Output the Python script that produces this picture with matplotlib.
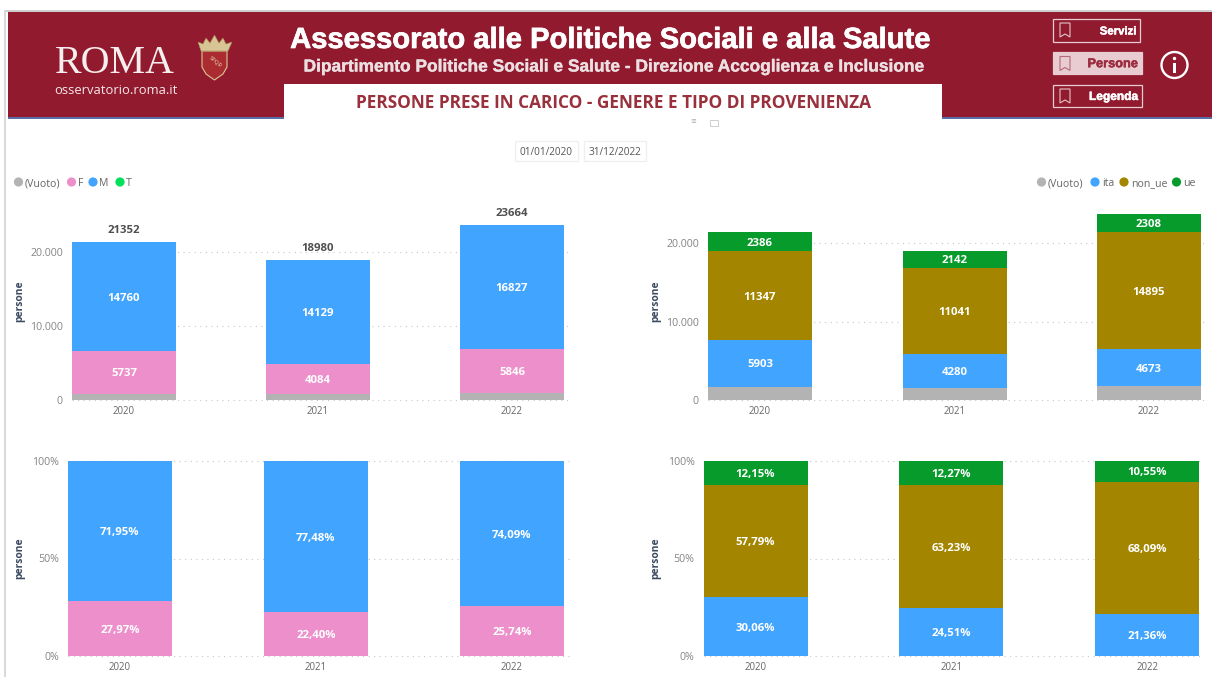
import matplotlib
matplotlib.use("Agg")
import matplotlib.pyplot as plt
import matplotlib.patheffects as pe
from matplotlib.patches import Rectangle, Polygon, Circle
from matplotlib.ticker import FuncFormatter

plt.rcParams["font.family"] = ["Open Sans", "DejaVu Sans"]

years = ["2020", "2021", "2022"]
totals = [21352, 18980, 23664]
g_vuoto = [855, 767, 991]
g_f = [5737, 4084, 5846]
g_m = [14760, 14129, 16827]
p_vuoto = [1716, 1517, 1788]
p_ita = [5903, 4280, 4673]
p_non = [11347, 11041, 14895]
p_ue = [2386, 2142, 2308]
gp_f = [27.97, 22.40, 25.74]
gp_m = [71.95, 77.48, 74.09]
pp_ita = [30.06, 24.51, 21.36]
pp_non = [57.79, 63.23, 68.09]
pp_ue = [12.15, 12.27, 10.55]

GREY, PINK, BLUE, GOLD, GREEN, LIME = "#b3b3b3", "#ec8fcb", "#41a4ff", "#a38500", "#069b2a", "#00e05a"
RED = "#911a2e"
W, H = 1212, 677
SANS = "Open Sans"
BAR_PX = 104

fig = plt.figure(figsize=(W / 100, H / 100), dpi=100, facecolor="white")


def make_ax(x0, x1, ytop, ybase, c0, pxu, lab_x, lab_y):
    ax = fig.add_axes([x0 / W, 1 - ybase / H, (x1 - x0) / W, (ybase - ytop) / H])
    ax.set_xlim((x0 - c0) / pxu, (x1 - c0) / pxu)
    ax.patch.set_alpha(0)
    for s in ax.spines.values():
        s.set_visible(False)
    ax.set_xticks(range(3), years)
    ax.tick_params(axis="x", length=0, labelsize=6.9, labelcolor="#666666", pad=4)
    ax.tick_params(axis="y", length=0, labelsize=7.7, labelcolor="#858585", pad=6.5)
    ax.set_axisbelow(True)
    ax.grid(axis="y", color="#c8c8c8", linestyle=(0, (1, 4)), linewidth=0.8, clip_on=False)
    ax.grid(axis="x", visible=False)
    ax.set_ylabel("persone", fontsize=7.4, color="#3c4a60", fontweight="bold")
    ax.yaxis.set_label_coords((lab_x - x0) / (x1 - x0), (ybase - lab_y) / (ybase - ytop))
    ax.bar_width = BAR_PX / pxu
    return ax


def stack(ax, layers, fmt):
    bottoms = [0, 0, 0]
    for vals, col, lab in layers:
        ax.bar(range(3), vals, bottom=bottoms, width=ax.bar_width, color=col,
               edgecolor="none", zorder=3)
        if lab:
            for i, v in enumerate(vals):
                ax.annotate(fmt(v), (i, bottoms[i] + v / 2), xytext=(0, -1.1),
                            textcoords="offset points", ha="center", va="center",
                            color="white", fontsize=8.2, fontweight="bold", zorder=4)
        bottoms = [b + v for b, v in zip(bottoms, vals)]
    return bottoms


num = lambda v: f"{v}"
pct = lambda v: f"{v:.2f}".replace(".", ",") + "%"
thou = FuncFormatter(lambda v, _: f"{int(v):,}".replace(",", "."))
pctf = FuncFormatter(lambda v, _: f"{int(v)}%")

ax1 = make_ax(72, 570, 215, 400, 124, 194, 25, 301)
ax1.set_ylim(0, 185 / 7.4 * 1000)
stack(ax1, [(g_vuoto, GREY, False), (g_f, PINK, True), (g_m, BLUE, True)], num)
for i, t in enumerate(totals):
    ax1.annotate(str(t), (i, t), xytext=(0, 4), textcoords="offset points", ha="center",
                 va="bottom", fontsize=8.2, fontweight="bold", color="#505050")
ax1.set_yticks([0, 10000, 20000])
ax1.yaxis.set_major_formatter(thou)

ax2 = make_ax(708, 1206, 204, 400, 760, 194.5, 661, 301)
ax2.set_ylim(0, 196 / 7.85 * 1000)
stack(ax2, [(p_vuoto, GREY, False), (p_ita, BLUE, True), (p_non, GOLD, True), (p_ue, GREEN, True)], num)
ax2.set_yticks([0, 10000, 20000])
ax2.yaxis.set_major_formatter(thou)

ax3 = make_ax(68, 570, 461, 656, 120, 196, 25, 558)
ax3.set_ylim(0, 100)
stack(ax3, [(gp_f, PINK, True), (gp_m, BLUE, True)], pct)
ax3.set_yticks([0, 50, 100])
ax3.yaxis.set_major_formatter(pctf)

ax4 = make_ax(703.5, 1203, 461, 656, 755.5, 195.8, 661, 558)
ax4.set_ylim(0, 100)
stack(ax4, [(pp_ita, BLUE, True), (pp_non, GOLD, True), (pp_ue, GREEN, True)], pct)
ax4.set_yticks([0, 50, 100])
ax4.yaxis.set_major_formatter(pctf)

# page furniture drawn in pixel coordinates
top = fig.add_axes([0, 0, 1, 1], zorder=5)
top.set_xlim(0, W)
top.set_ylim(H, 0)
top.axis("off")
top.patch.set_alpha(0)

top.add_patch(Rectangle((4, 10), 1208, 2, color="#cfcfcf", lw=0))
top.add_patch(Rectangle((4, 10), 2, 667, color="#d9d9d9", lw=0))
top.add_patch(Rectangle((8, 12), 1204, 106, color=RED, lw=0))
top.add_patch(Rectangle((8, 117.4), 1204, 1.2, color="#5a6fa8", lw=0))
top.add_patch(Rectangle((284, 84), 658, 35, color="white", lw=0))

top.text(114.5, 63.5, "ROMA", family="Liberation Serif", fontsize=28.8, color="#f6eeee", ha="center", va="center")
top.text(115.5, 90, "osservatorio.roma.it", family=SANS, fontsize=9.4, color="#f4e8ea", ha="center", va="center")
# crest
GOLDC = "#d8c596"
top.add_patch(Polygon([(202, 51), (227, 51), (227, 67), (223, 74), (214.5, 80), (206, 74), (202, 67)],
                      closed=True, fc="#ab2c30", ec=GOLDC, lw=0.8))
top.add_patch(Polygon([(198, 42), (203, 44), (206, 38), (210, 43), (214.5, 35), (219, 43), (223, 38),
                       (226, 44), (232, 42), (228, 51), (201, 51)], closed=True, fc=GOLDC, ec="#a08a55", lw=0.4))
top.text(214.5, 62, "SPQR", fontsize=4.2, color="#e8d6b0", rotation=-40, ha="center", va="center")

t1 = top.text(610, 40, "Assessorato alle Politiche Sociali e alla Salute", family="Liberation Sans",
              fontweight="bold", fontsize=21, color="white", ha="center", va="center")
t1.set_path_effects([pe.withStroke(linewidth=0.5, foreground="white")])
t2 = top.text(614.5, 67, "Dipartimento Politiche Sociali e Salute - Direzione Accoglienza e Inclusione",
              family="Liberation Sans", fontweight="bold", fontsize=12.5, color="#ecdfe2", ha="center", va="center")
t2.set_path_effects([pe.withStroke(linewidth=0.25, foreground="#ecdfe2")])
top.text(614, 103, "PERSONE PRESE IN CARICO - GENERE E TIPO DI PROVENIENZA", family=SANS,
         fontweight="bold", fontsize=12.45, color="#99303c", ha="center", va="center")


def bookmark(x, y, col):
    top.add_patch(Polygon([(x, y), (x + 10, y), (x + 10, y + 14), (x + 5, y + 11), (x, y + 14)],
                          closed=True, fc="none", ec=col, lw=0.8))


for (x0, y0, w, h, label, lx, fs, active) in [
    (1053, 18.5, 87, 23.5, "Servizi", 1137, 8.2, False),
    (1053, 52, 89, 22, "Persone", 1138, 9.2, True),
    (1053, 84.5, 89, 22.5, "Legenda", 1138, 8.6, False),
]:
    top.add_patch(Rectangle((x0, y0), w, h, fc="#e8ccd2" if active else "none",
                            ec="#e8ccd2", lw=0.9))
    bookmark(x0 + 7, y0 + 4.5, "#b56a78" if active else "#e3c4ca")
    col = "#9c2c40" if active else "white"
    tb = top.text(lx, y0 + h / 2 + 1.2, label, family="Liberation Sans", fontweight="bold", fontsize=fs,
                  color=col, ha="right", va="center")
    tb.set_path_effects([pe.withStroke(linewidth=0.35, foreground=col)])
top.add_patch(Circle((1174.5, 65), 13, fc="none", ec="white", lw=1.7))
top.add_patch(Rectangle((1173.2, 63), 2.6, 10, color="white", lw=0))
top.add_patch(Circle((1174.5, 58.5), 1.7, color="white", lw=0))

# date boxes
for x0, x1, s in [(515, 578, "01/01/2020"), (584, 646, "31/12/2022")]:
    top.add_patch(Rectangle((x0, 141), x1 - x0, 20, fc="white", ec="#efefef", lw=0.9))
    top.text((x0 + x1) / 2, 152.5, s, family=SANS, fontsize=7.2, color="#555555", ha="center", va="center")
top.text(693, 121.5, "\u2261", fontsize=5, color="#aaaaaa", ha="center", va="center")
top.add_patch(Rectangle((710, 120), 8, 6, fc="none", ec="#bbbbbb", lw=0.5))


def legend(items):
    for cx, col, tx, s in items:
        top.add_patch(Circle((cx, 182), 4.6, color=col, lw=0))
        top.text(tx, 183.5, s, family=SANS, fontsize=7.6, color="#666666", ha="left", va="center")


legend([(18.5, GREY, 25, "(Vuoto)"), (71.5, PINK, 78, "F"), (93, BLUE, 99, "M"), (120, LIME, 126, "T")])
legend([(1041.5, GREY, 1048, "(Vuoto)"), (1095, BLUE, 1102, "ita"), (1124, GOLD, 1131, "non_ue"),
        (1176.5, GREEN, 1183.5, "ue")])

fig.savefig("out.png", dpi=100)
